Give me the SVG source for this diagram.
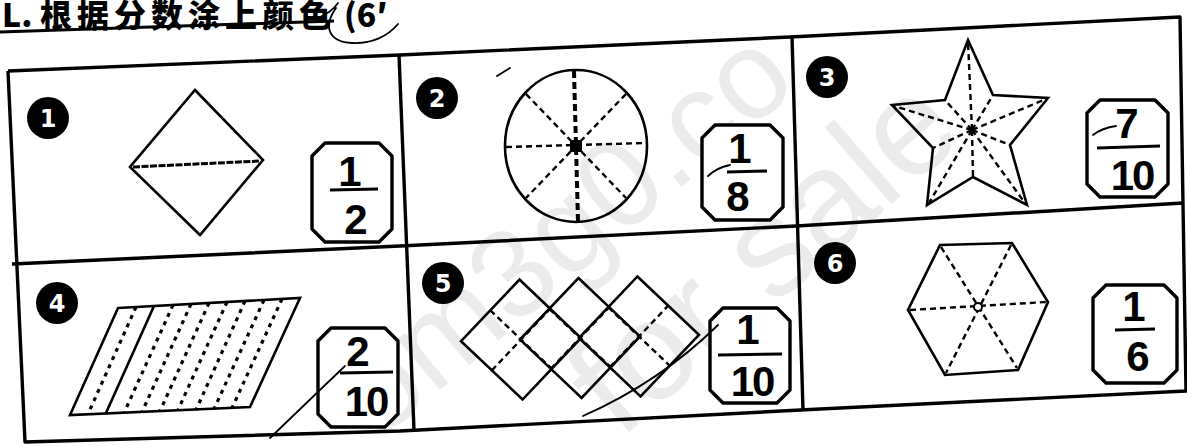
<svg xmlns="http://www.w3.org/2000/svg" width="1187" height="447" viewBox="0 0 1187 447">
<style>
.wm{fill:#ebebeb;font-family:"Liberation Sans",Arial,sans-serif;}
.frame{fill:none;stroke:#000;stroke-width:3.4;stroke-linejoin:round;}
.shape{fill:none;stroke:#000;stroke-width:2.6;stroke-linejoin:miter;}
.dash{fill:none;stroke:#000;stroke-width:2.4;stroke-dasharray:6 4;}
.dot{fill:none;stroke:#000;stroke-width:3.2;stroke-dasharray:4 5;}
.box{fill:#fff;stroke:#000;stroke-width:3.4;stroke-linejoin:round;}
.bar{stroke:#000;stroke-width:3;}
.frac{font-family:"Liberation Sans",Arial,sans-serif;font-weight:bold;font-size:42px;text-anchor:middle;fill:#000;}
.badge{fill:#000;}
.badgetxt{font-family:"DejaVu Sans","Liberation Sans",sans-serif;font-weight:bold;font-size:24px;text-anchor:middle;fill:#fff;}
.pen{fill:none;stroke:#000;stroke-width:1.8;stroke-linecap:round;}
.title{font-family:"Noto Sans CJK SC","Liberation Sans",sans-serif;font-weight:900;font-size:32px;fill:#000;}
</style>
<rect width="1187" height="447" fill="#fff"/>

<g id="watermark">
<text class="wm" x="0" y="0" font-size="125" transform="translate(380 440) rotate(-40)">om3g0.co</text>
<text class="wm" x="0" y="0" font-size="140" transform="translate(620 440) rotate(-41)">for sale</text>
</g>

<g id="title">
<text class="title" x="2" y="27">L.</text>
<text class="title" x="40" y="27" letter-spacing="5">根据分数涂上颜色</text>
<text class="title" x="344" y="27">(6′</text>
<path class="bar" d="M0,32 L334,21"/>
<path class="pen" d="M318,18 Q332,12 338,3 M336,8 C322,28 330,42 352,43 C372,44 388,36 398,24"/>
</g>

<g id="table">
<polyline class="frame" points="8,71 400,55 790,37 1180,17 1186,391 820,409 400,431 25,442 8,71"/>
<polyline class="frame" points="12,264 400,246 796,226 1183,203"/>
<line class="frame" x1="399" y1="55" x2="414" y2="430"/>
<line class="frame" x1="792" y1="37" x2="803" y2="410"/>
</g>

<g id="cell1">
<circle class="badge" cx="48" cy="118" r="21"/>
<text class="badgetxt" x="48" y="127">1</text>
<polygon class="shape" points="195,90 263,160 200,235 130,167"/>
<line x1="133" y1="167" x2="260" y2="161" stroke="#000" stroke-width="3" stroke-dasharray="7 1.5"/>
<polygon class="box" points="325,143 379,143 392,156 392,229 379,242 325,242 312,229 312,156"/>
<line class="bar" x1="330" y1="190" x2="378" y2="189"/>
<text class="frac" x="350" y="186" font-size="46">1</text>
<text class="frac" x="356" y="234" font-size="46">2</text>
</g>

<g id="cell2">
<circle class="badge" cx="437" cy="98" r="21"/>
<text class="badgetxt" x="437" y="107">2</text>
<ellipse class="shape" cx="576" cy="146" rx="71" ry="76"/>
<line x1="574" y1="71" x2="578" y2="221" stroke="#000" stroke-width="4" stroke-dasharray="7 4"/>
<line class="dash" x1="506" y1="147" x2="646" y2="143"/>
<line class="dash" x1="526" y1="94" x2="626" y2="198"/>
<line class="dash" x1="626" y1="94" x2="526" y2="198"/>
<rect x="570" y="140" width="12" height="12" fill="#000"/>
<polygon class="box" points="715,125 770,125 783,138 783,207 770,220 715,220 702,207 702,138"/>
<line class="bar" x1="727" y1="172" x2="767" y2="171"/>
<text class="frac" x="740" y="163">1</text>
<text class="frac" x="738" y="211">8</text>
</g>

<g id="cell3">
<circle class="badge" cx="827" cy="77" r="21"/>
<text class="badgetxt" x="827" y="86">3</text>
<polygon class="shape" points="968,40 993,95 1048,98 1010,145 1027,205 973,177 927,205 933,148 892,105 945,100"/>
<g class="dash">
<line x1="972" y1="130" x2="968" y2="42"/>
<line x1="972" y1="130" x2="1046" y2="99"/>
<line x1="972" y1="130" x2="1025" y2="203"/>
<line x1="972" y1="130" x2="929" y2="203"/>
<line x1="972" y1="130" x2="894" y2="106"/>
<line x1="972" y1="130" x2="993" y2="95"/>
<line x1="972" y1="130" x2="1010" y2="145"/>
<line x1="972" y1="130" x2="973" y2="177"/>
<line x1="972" y1="130" x2="933" y2="148"/>
<line x1="972" y1="130" x2="945" y2="100"/>
</g>
<polygon class="box" points="1100,100 1155,100 1168,113 1168,184 1155,197 1100,197 1087,184 1087,113"/>
<line class="bar" x1="1097" y1="148" x2="1160" y2="146"/>
<text class="frac" x="1127" y="138">7</text>
<text class="frac" x="1132" y="190" letter-spacing="-2">10</text>
</g>

<g id="cell4">
<circle class="badge" cx="57" cy="303" r="21"/>
<text class="badgetxt" x="57" y="312">4</text>
<polygon class="shape" points="118,308 300,298 250,407 70,415"/>
<line x1="154" y1="306" x2="106" y2="413" stroke="#000" stroke-width="2.6"/>
<g class="dot">
<line x1="136" y1="307" x2="88" y2="414"/>
<line x1="173" y1="305" x2="124" y2="413"/>
<line x1="191" y1="304" x2="142" y2="412"/>
<line x1="209" y1="303" x2="160" y2="411"/>
<line x1="227" y1="302" x2="178" y2="410"/>
<line x1="245" y1="301" x2="196" y2="410"/>
<line x1="264" y1="300" x2="214" y2="409"/>
<line x1="282" y1="299" x2="232" y2="408"/>
</g>
<polygon class="box" points="331,328 385,328 398,341 398,414 385,427 331,427 318,414 318,341"/>
<line class="bar" x1="340" y1="373" x2="393" y2="372"/>
<text class="frac" x="358" y="366">2</text>
<text class="frac" x="366" y="416" letter-spacing="-2">10</text>
</g>

<g id="cell5">
<circle class="badge" cx="443" cy="283" r="21"/>
<text class="badgetxt" x="443" y="292">5</text>
<g transform="rotate(-1.5 580 338)">
<g class="dash">
<line x1="491" y1="308" x2="551" y2="368"/>
<line x1="491" y1="368" x2="551" y2="308"/>
<line x1="550" y1="308" x2="610" y2="368"/>
<line x1="550" y1="368" x2="610" y2="308"/>
<line x1="609" y1="308" x2="669" y2="368"/>
<line x1="609" y1="368" x2="669" y2="308"/>
</g>
<polygon class="shape" points="521,278 581,338 521,398 461,338"/>
<polygon class="shape" points="580,278 640,338 580,398 520,338"/>
<polygon class="shape" points="639,278 699,338 639,398 579,338"/>
</g>
<polygon class="box" points="723,308 777,308 790,321 790,390 777,403 723,403 710,390 710,321"/>
<line class="bar" x1="718" y1="355" x2="782" y2="354"/>
<text class="frac" x="748" y="344">1</text>
<text class="frac" x="752" y="396" letter-spacing="-2">10</text>
</g>

<g id="cell6">
<circle class="badge" cx="835" cy="263" r="21"/>
<text class="badgetxt" x="835" y="272">6</text>
<polygon class="shape" points="940,245 1012,243 1048,302 1018,370 945,375 908,310"/>
<g class="dash">
<line x1="910" y1="310" x2="1046" y2="302"/>
<line x1="941" y1="247" x2="1017" y2="368"/>
<line x1="1011" y1="245" x2="946" y2="373"/>
</g>
<circle cx="978" cy="307" r="4" fill="#fff" stroke="#000" stroke-width="2"/>
<polygon class="box" points="1106,285 1164,285 1177,298 1177,370 1164,383 1106,383 1093,370 1093,298"/>
<line class="bar" x1="1115" y1="330" x2="1155" y2="329"/>
<text class="frac" x="1134" y="321">1</text>
<text class="frac" x="1138" y="371">6</text>
</g>

<g id="connectors">
<path class="pen" d="M270,438 L322,388 L345,366"/>
<path class="pen" d="M583,416 Q660,382 718,325"/>
<path class="pen" d="M497,76 L510,68"/>
<path class="pen" d="M708,176 Q716,168 730,165"/>
<path class="pen" d="M1093,135 Q1102,128 1116,126"/>
</g>
</svg>
